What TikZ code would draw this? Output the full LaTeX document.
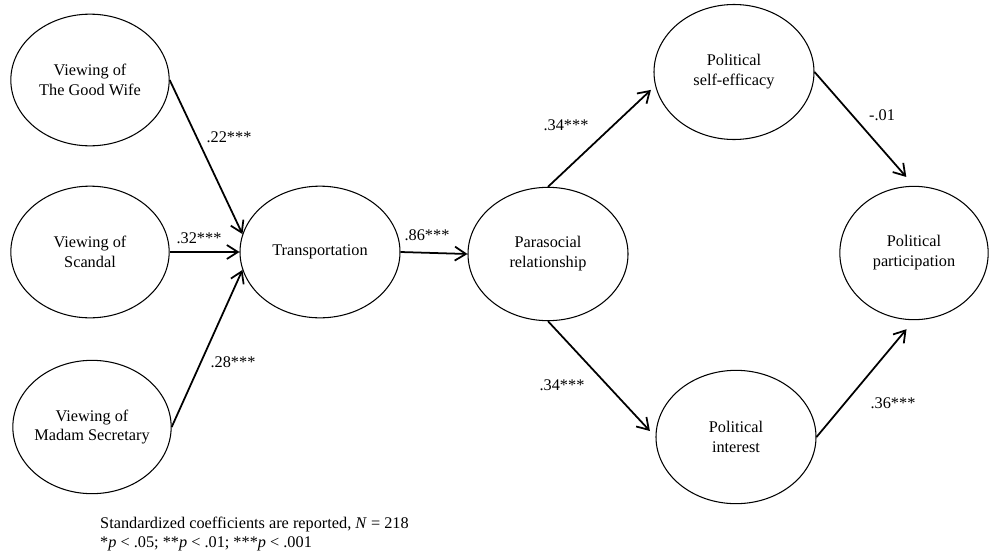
\documentclass[tikz,border=0pt]{standalone}
\usepackage{fontspec}
\setmainfont{Liberation Serif}
\usetikzlibrary{arrows.meta,shapes.geometric}

\begin{document}
\begin{tikzpicture}[x=0.03cm,y=-0.03cm,
        latent/.style={draw,ellipse,line width=0.9pt,inner sep=-3pt,minimum width=4.8cm,minimum height=4cm,
            align=center,font=\fontsize{13.9}{17}\selectfont},
        link/.style={line width=1.5pt,-{Straight Barb[length=3.3mm,width=4.2mm]}},
        coef/.style={inner sep=0pt,font=\fontsize{13.9}{17}\selectfont}]
    \useasboundingbox (0,0) rectangle (990,556);
    \node[latent,minimum width=4.75cm,minimum height=3.95cm] (gw) at (90,80) {Viewing of\\The Good Wife};
    \node[latent,minimum width=4.75cm,minimum height=3.95cm] (sc) at (90,252) {Viewing of\\Scandal};
    \node[latent,minimum width=4.75cm] (ms) at (92,427) {Viewing of\\Madam Secretary};
    \node[latent,minimum height=3.95cm] (trans) at (320,252) {Transportation};
    \node[latent] (para) at (548,254) {Parasocial\\relationship};
    \node[latent,minimum height=4.05cm] (se) at (734,72) {Political\\self-efficacy};
    \node[latent] (int) at (736,437) {Political\\interest};
    \node[latent,minimum width=4.45cm] (part) at (914,253) {Political\\participation};
    \draw[link] (gw.east) -- (trans.167);
    \draw[link] (sc.east) -- (trans.west);
    \draw[link] (ms.east) -- (trans.193);
    \draw[link] (trans.east) -- (para.west);
    \draw[link,shorten >=5pt] (para.north) -- (se.190);
    \draw[link,shorten >=10pt] (se.east) -- (part.north);
    \draw[link,shorten >=7pt] (para.south) -- (int.west);
    \draw[link,shorten >=10pt] (int.east) -- (part.south);
    \node[coef] (c22) at (229,137) {.22***};
    \node[coef] (c32) at (199,238) {.32***};
    \node[coef] (c28) at (233,362) {.28***};
    \node[coef] (c86) at (427,235) {.86***};
    \node[coef] (c34a) at (566,125) {.34***};
    \node[coef] (c01) at (882,115) {-.01};
    \node[coef] (c34b) at (562,385) {.34***};
    \node[coef] (c36) at (893,403) {.36***};
    \node[coef,anchor=west,align=left,font=\fontsize{13.9}{15.4}\selectfont] (note) at (100,534)
        {Standardized coefficients are reported, \textit{N} = 218\\*\textit{p} < .05; **\textit{p} < .01; ***\textit{p} < .001};
\end{tikzpicture}
\end{document}
